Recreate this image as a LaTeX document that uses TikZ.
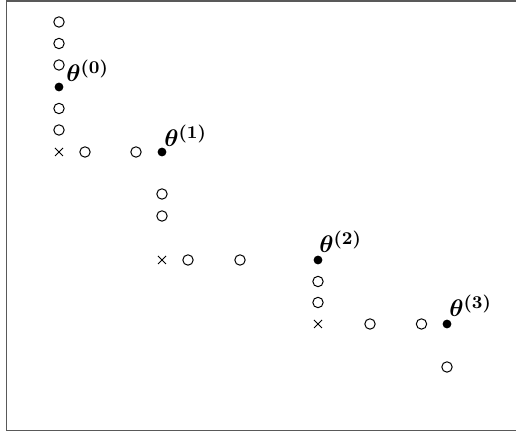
\documentclass[tikz,border=0pt]{standalone}
\usepackage{bm}
\usetikzlibrary{shapes.misc}
\begin{document}
\begin{tikzpicture}[x=0.5pt,y=-0.5pt,
  opt/.style={circle,draw=black,line width=0.5pt,minimum size=5.2pt,inner sep=0pt},
  cur/.style={circle,fill=black,minimum size=4.4pt,inner sep=0pt},
  xm/.style={cross out,draw=black,line width=0.4pt,minimum size=3.6pt,inner sep=0pt},
  lab/.style={anchor=base west,inner sep=0pt,font=\fontsize{13}{15}\selectfont}]
\useasboundingbox (0,0) rectangle (516,432);
\draw[line width=0.8pt,black!65] (520,1) -- (6.5,1) -- (6.5,430.5) -- (520,430.5);
% column 0
\node[opt] (a1) at (59,22) {};
\node[opt] (a2) at (59,43.5) {};
\node[opt] (a3) at (59,65) {};
\node[cur] (t0) at (59,87) {};
\node[opt] (a4) at (59,108.5) {};
\node[opt] (a5) at (59,130) {};
\node[xm] (x0) at (59,152) {};
\node[opt] (b1) at (85,152) {};
\node[opt] (b2) at (136,152) {};
\node[cur] (t1) at (162,152) {};
% column 1
\node[opt] (c1) at (162,194) {};
\node[opt] (c2) at (162,216) {};
\node[xm] (x1) at (162,260) {};
\node[opt] (d1) at (188,260) {};
\node[opt] (d2) at (240,260) {};
\node[cur] (t2) at (318,260) {};
% column 2
\node[opt] (e1) at (318,281.5) {};
\node[opt] (e2) at (318,302.5) {};
\node[xm] (x2) at (318,324) {};
\node[opt] (f1) at (370,324) {};
\node[opt] (f2) at (421.5,324) {};
\node[cur] (t3) at (447,324) {};
\node[opt] (g1) at (447,367) {};
% labels
\node[lab] (l0) at (66,82) {$\bm{\theta^{(0)}}$};
\node[lab] (l1) at (164,147) {$\bm{\theta^{(1)}}$};
\node[lab] (l2) at (319,253) {$\bm{\theta^{(2)}}$};
\node[lab] (l3) at (449,317) {$\bm{\theta^{(3)}}$};
\end{tikzpicture}
\end{document}
